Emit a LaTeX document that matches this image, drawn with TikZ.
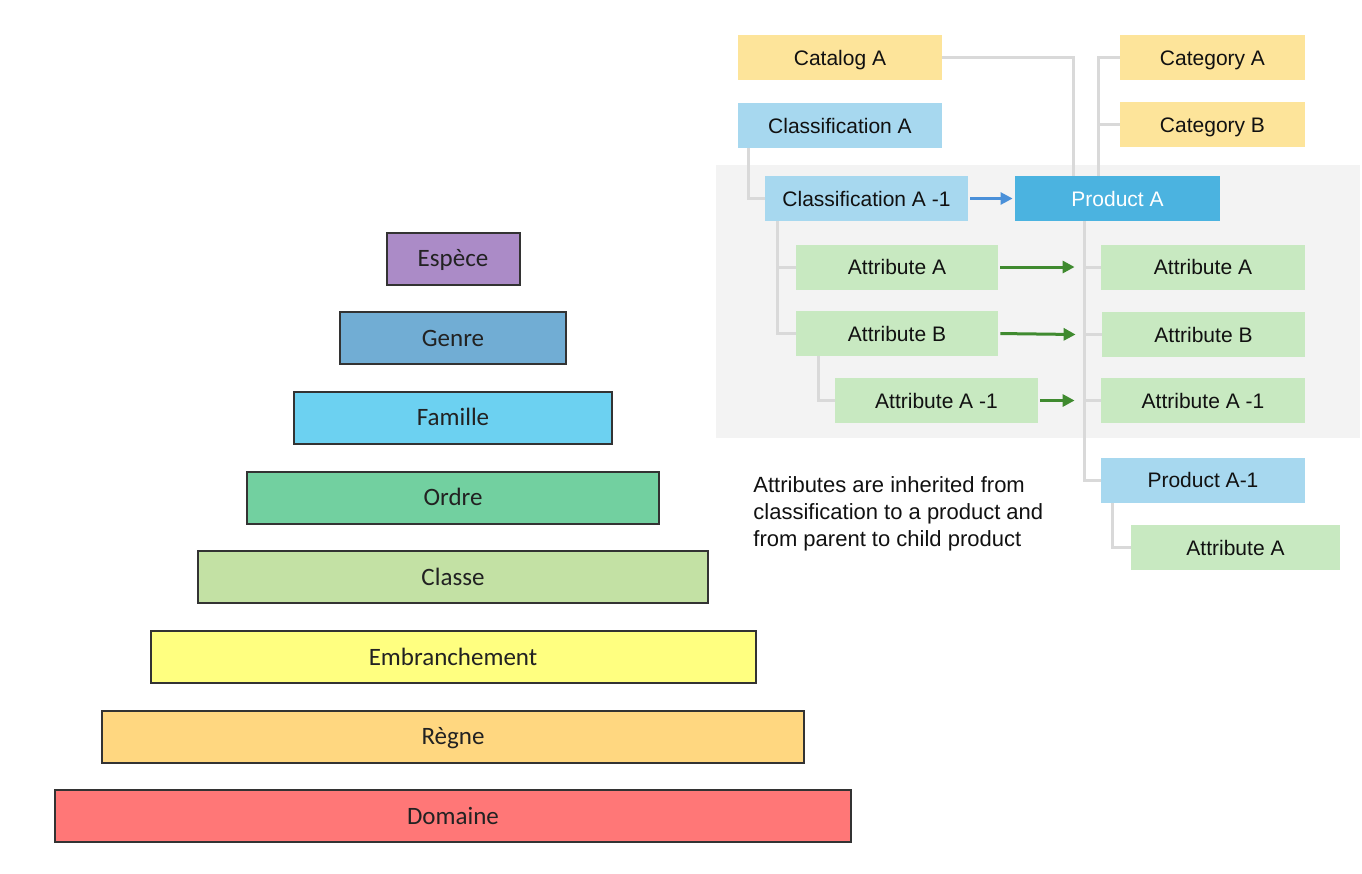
\documentclass[tikz,border=0pt]{standalone}
\usepackage{fontspec}
\setmainfont{Liberation Sans}
\newfontfamily\carlito{Carlito}
\usetikzlibrary{arrows.meta}
\definecolor{lvlEdge}{HTML}{333333}
\definecolor{lvlInk}{HTML}{222222}
\definecolor{lvlEspece}{HTML}{AB8BC7}
\definecolor{lvlGenre}{HTML}{71ADD4}
\definecolor{lvlFamille}{HTML}{6CD1F1}
\definecolor{lvlOrdre}{HTML}{72D0A0}
\definecolor{lvlClasse}{HTML}{C3E1A4}
\definecolor{lvlEmbr}{HTML}{FFFF80}
\definecolor{lvlRegne}{HTML}{FFD780}
\definecolor{lvlDomaine}{HTML}{FF7777}
\definecolor{boxInk}{HTML}{111111}
\definecolor{catFill}{HTML}{FDE49A}
\definecolor{clsFill}{HTML}{A7D8EF}
\definecolor{prdFill}{HTML}{4BB3E0}
\definecolor{attFill}{HTML}{C8E9C1}
\definecolor{linkGray}{HTML}{D9D9D9}
\definecolor{panelGray}{HTML}{F3F3F3}
\definecolor{arrBlue}{HTML}{4A90D9}
\definecolor{arrGreen}{HTML}{3F8A2F}

\begin{document}
\begin{tikzpicture}[
  x=0.5pt, y=-0.5pt,
  level/.style={draw=lvlEdge, line width=1pt, minimum height=26pt, inner sep=0pt,
    text height=8pt, text depth=0pt,
    font=\carlito\fontsize{12.5}{15}\selectfont, text=lvlInk},
  box/.style={minimum width=102pt, minimum height=22.5pt, inner sep=0pt,
    text height=7.5pt, text depth=0pt,
    font=\fontsize{10.5}{12.6}\selectfont, text=boxInk},
  catalog/.style={box, fill=catFill},
  classif/.style={box, fill=clsFill},
  product/.style={box, fill=prdFill, text=white},
  attr/.style={box, fill=attFill},
  link/.style={draw=linkGray, line width=1.5pt},
  derive/.style={draw=arrBlue, line width=1.3pt, shorten <=1pt, shorten >=1pt,
    -{Triangle[length=6pt,width=6pt]}},
  inherit/.style={draw=arrGreen, line width=1.5pt, shorten <=1pt,
    -{Triangle[length=6pt,width=6pt]}},
  note/.style={font=\fontsize{11}{13.5}\selectfont, text=boxInk, align=left, inner sep=0pt}
]
  \useasboundingbox (0,0) rectangle (1362,874);

  %% --- piramide della classificazione ---
  \foreach \tag/\name/\col/\w [count=\i from 0] in {
    espece/Espèce/lvlEspece/133,
    genre/Genre/lvlGenre/226,
    famille/Famille/lvlFamille/318,
    ordre/Ordre/lvlOrdre/412,
    classe/Classe/lvlClasse/510,
    embr/Embranchement/lvlEmbr/605,
    regne/Règne/lvlRegne/702,
    domaine/Domaine/lvlDomaine/796
  } {
    \node[level, fill=\col, minimum width={\w*0.5pt}] (\tag) at (453,{258.5+\i*79.7}) {\name};
  }

  %% --- pannello grigio ---
  \fill[panelGray] (716,165) rectangle (1360,438);

  %% --- nodi del catalogo ---
  \node[catalog] (catalogA) at (840,57.5) {Catalog A};
  \node[catalog, minimum width=92.5pt] (categoryA) at (1212.5,57.5) {Category A};
  \node[catalog, minimum width=92.5pt] (categoryB) at (1212.5,124.5) {Category B};
  \node[classif] (classA) at (840,125.5) {Classification A};
  \node[classif, minimum width=101.5pt] (classA1) at (866.5,198.5) {Classification A -1};
  \node[product, minimum width=102.5pt] (productA) at (1117.5,198.5) {Product A};

  \node[attr, minimum width=101pt] (attrA) at (897,267) {Attribute A};
  \node[attr, minimum width=101pt] (attrB) at (897,333.5) {Attribute B};
  \node[attr, minimum width=101.5pt] (attrA1) at (936.5,400.5) {Attribute A -1};

  \node[attr] (pattrA) at (1203,267) {Attribute A};
  \node[attr, minimum width=101.5pt] (pattrB) at (1203.5,334.5) {Attribute B};
  \node[attr] (pattrA1) at (1203,400.5) {Attribute A -1};
  \node[classif] (productA1) at (1203,480) {Product A-1};
  \node[attr, minimum width=104.5pt] (cattrA) at (1235.5,547.5) {Attribute A};

  \node[note, anchor=west] (note) at (753,514)
    {Attributes are inherited from\\classification to a product and\\from parent to child product};

  %% --- collegamenti ---
  \draw[link] (catalogA.east) -| ([xshift=29.5pt]productA.north west);
  \draw[link] (categoryA.west) -| ([xshift=42pt]productA.north west);
  \draw[link] (categoryB.west) -| ([xshift=42pt]productA.north west);
  \draw[link] ([xshift=5.5pt]classA.south west) |- (classA1.west);
  \draw[link] ([xshift=6.5pt]classA1.south west) |- (attrA.west);
  \draw[link] ([xshift=6.5pt]classA1.south west) |- (attrB.west);
  \draw[link] ([xshift=11.5pt]attrB.south west) |- (attrA1.west);
  \foreach \dst in {pattrA, pattrB, pattrA1, productA1} {
    \draw[link] ([xshift=35pt]productA.south west) |- (\dst.west);
  }
  \draw[link] ([xshift=6pt]productA1.south west) |- (cattrA.west);

  %% --- ereditarieta' ---
  \draw[derive] (classA1.east) -- (productA.west);
  \draw[inherit] (attrA.east) -- ([xshift=-13pt]pattrA.west);
  \draw[inherit] (attrB.east) -- ([xshift=-13pt]pattrB.west);
  \draw[inherit] (attrA1.east) -- ([xshift=-13pt]pattrA1.west);
\end{tikzpicture}
\end{document}
